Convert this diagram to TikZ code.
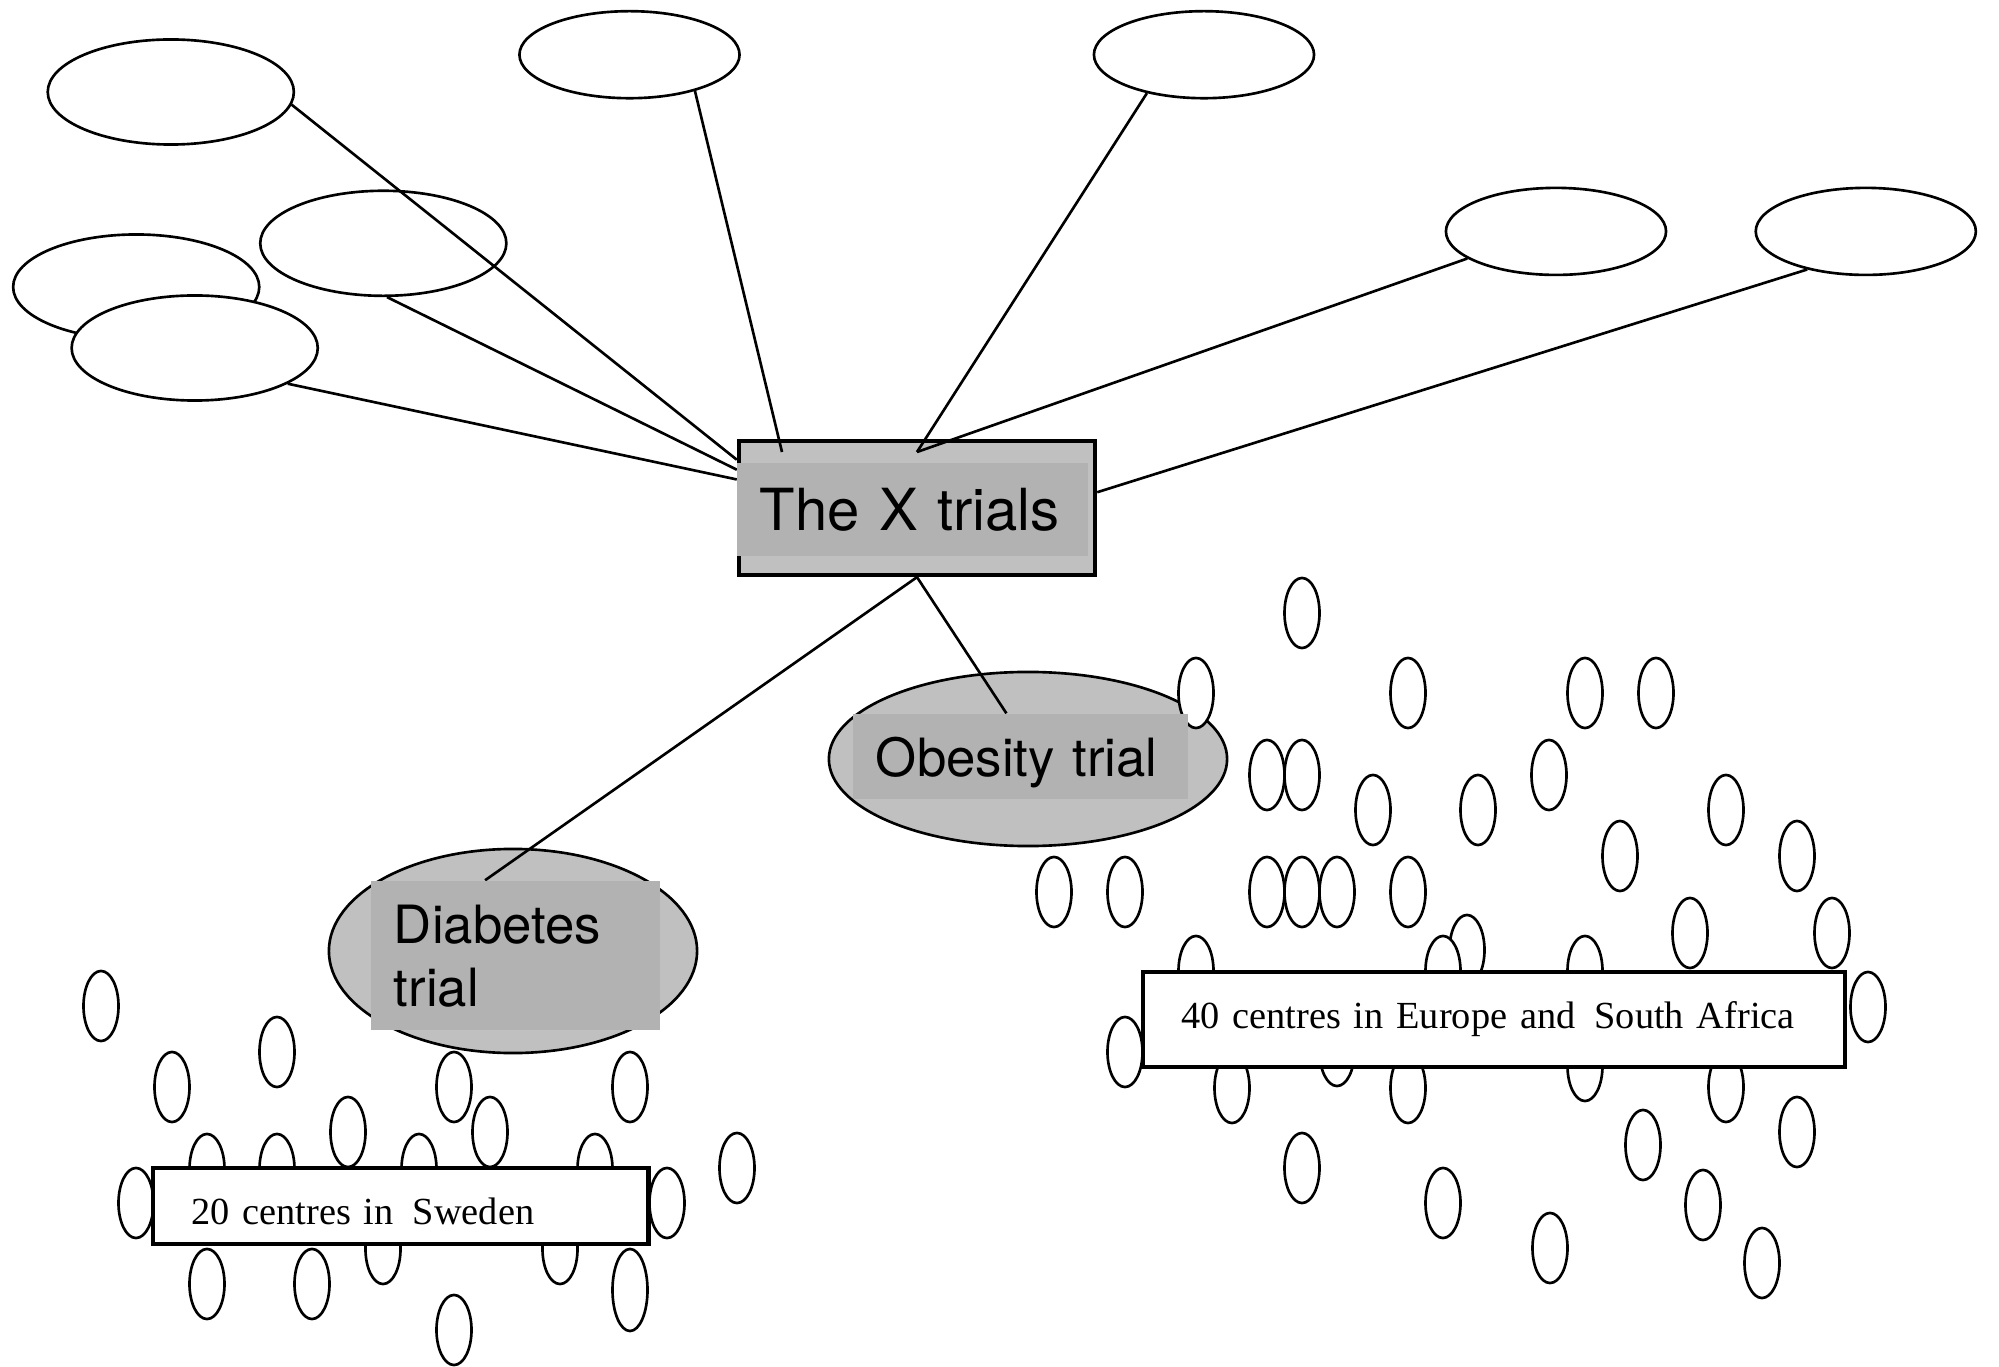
\documentclass[tikz,border=0pt]{standalone}
\usepackage{fontspec}
\setmainfont{TeX Gyre Heros}
\newfontfamily\sitefont{Liberation Serif}
\usepackage{tikz}
\usetikzlibrary{shapes, positioning, backgrounds}
\pgfdeclarelayer{front}
\pgfsetlayers{background,main,front}
\definecolor{ovalgrey}{gray}{0.753}
\definecolor{taggrey}{gray}{0.698}

\begin{document}
\begin{tikzpicture}[x=0.01cm, y=-0.01cm,
		arm/.style={ellipse, draw, fill=white, line width=0.75pt, inner sep=0pt,
			minimum width=2.46cm, minimum height=1.05cm},
		armsmall/.style={arm, minimum width=2.2cm, minimum height=0.87cm},
		centre/.style={ellipse, draw, fill=white, line width=0.75pt, inner sep=0pt,
			minimum width=0.35cm, minimum height=0.70cm},
		trial/.style={ellipse, draw, fill=ovalgrey, line width=0.75pt, inner sep=0pt},
		tag/.style={fill=taggrey, inner xsep=0.23cm, inner ysep=0pt, align=left,
			text depth=0pt, font=\fontsize{15}{18}\selectfont},
		site/.style={draw, fill=white, line width=1.2pt, inner xsep=0.384cm,
			inner ysep=0pt, align=left, font=\sitefont\fontsize{10.9}{13}\selectfont},
		link/.style={line width=0.75pt}]
			\useasboundingbox (0,0) rectangle (1999,1367);
			\node[arm] (arm1) at (170.8,92) {};
			\node[arm] (arm4) at (383.3,243.3) {};
			\node[arm] (arm5) at (136.2,287) {};
			\node[arm] (arm6) at (194.7,348) {};
			\node[armsmall] (arm2) at (629.5,54.7) {};
			\node[armsmall] (arm3) at (1204,54.7) {};
			\node[armsmall] (arm7) at (1556,231.4) {};
			\node[armsmall] (arm8) at (1865.8,231.4) {};
			\node[draw, line width=1.2pt, fill=ovalgrey, inner sep=0pt,
			minimum width=3.56cm, minimum height=1.34cm] (hub) at (917,508) {};
			\node[trial, minimum width=3.98cm, minimum height=1.74cm] (obesity) at (1028,759) {};
			\node[trial, minimum width=3.68cm, minimum height=2.04cm] (diabetes) at (513,951) {};
			\begin{pgfonlayer}{front}
				\node[tag, text width=3.05cm, minimum height=0.93cm,
				font=\fontsize{16.5}{20}\selectfont] (hubtag) at (912.5,509.5) {The X trials};
				\node[tag, text width=2.887cm, minimum height=0.847cm] (obtag) at (1020.4,756.4)
				{Obesity trial};
				\node[tag, text width=2.43cm, minimum height=1.49cm, text depth=18pt]
				(dbtag) at (515.5,955.5) {Diabetes\\trial};
				\node[site, text width=4.182cm, minimum height=0.757cm, text height=0.36cm]
				(sweden) at (400.8,1206.2) {20 centres in\ \,Sweden};
				\node[site, text width=6.249cm, minimum height=0.95cm]
				(europe) at (1494.2,1019.2) {40 centres in Europe and\ \,South Africa};
			\end{pgfonlayer}
			\coordinate (k2) at (782,452);
			\coordinate (k3) at (917,452);
			\draw[link] (arm1.-6) -- (hub.165.8);
			\draw[link] (arm4.-86.4) -- (hub.168.6);
			\draw[link] (arm6.-21.5) -- (hub.171.1);
			\draw[link] (arm2.-29.4) -- (k2);
			\draw[link] (arm3.-146) -- (k3);
			\draw[link] (arm7.-163.8) -- (k3);
			\draw[link] (arm8.-147.1) -- (hub.5.55);
			\draw[link] (hub.south) -- (dbtag.112.3);
			\draw[link] (hub.south) -- (obtag.108.8);
			\foreach \x/\y [count=\i] in {101/1006, 172/1087, 277/1052, 454/1087, 630/1087,
				207/1169, 277/1169, 348/1132, 419/1169, 490/1132, 595/1169, 737/1168,
				136/1203, 667/1203, 207/1284, 312/1284, 383/1249, 560/1249, 454/1330}
			\node[centre] (sw\i) at (\x,\y) {};
			\node[centre, minimum height=0.82cm] (sw20) at (630,1290) {};
			\foreach \x/\y [count=\i] in {1302/613, 1196/693, 1408/693, 1585/693, 1656/693,
				1267/775, 1302/775, 1549/775, 1373/810, 1478/810, 1726/810, 1620/856,
				1797/856, 1054/892, 1125/892, 1267/892, 1302/892, 1337/892, 1408/892,
				1690/933, 1832/933, 1467/950, 1443/971, 1196/971, 1585/971, 1125/1052,
				1868/1007, 1232/1088, 1337/1051, 1408/1088, 1585/1066, 1726/1087,
				1302/1168, 1643/1145, 1797/1132, 1443/1203, 1703/1205, 1550/1248, 1762/1263}
			\node[centre] (eu\i) at (\x,\y) {};
		\end{tikzpicture}
\end{document}
